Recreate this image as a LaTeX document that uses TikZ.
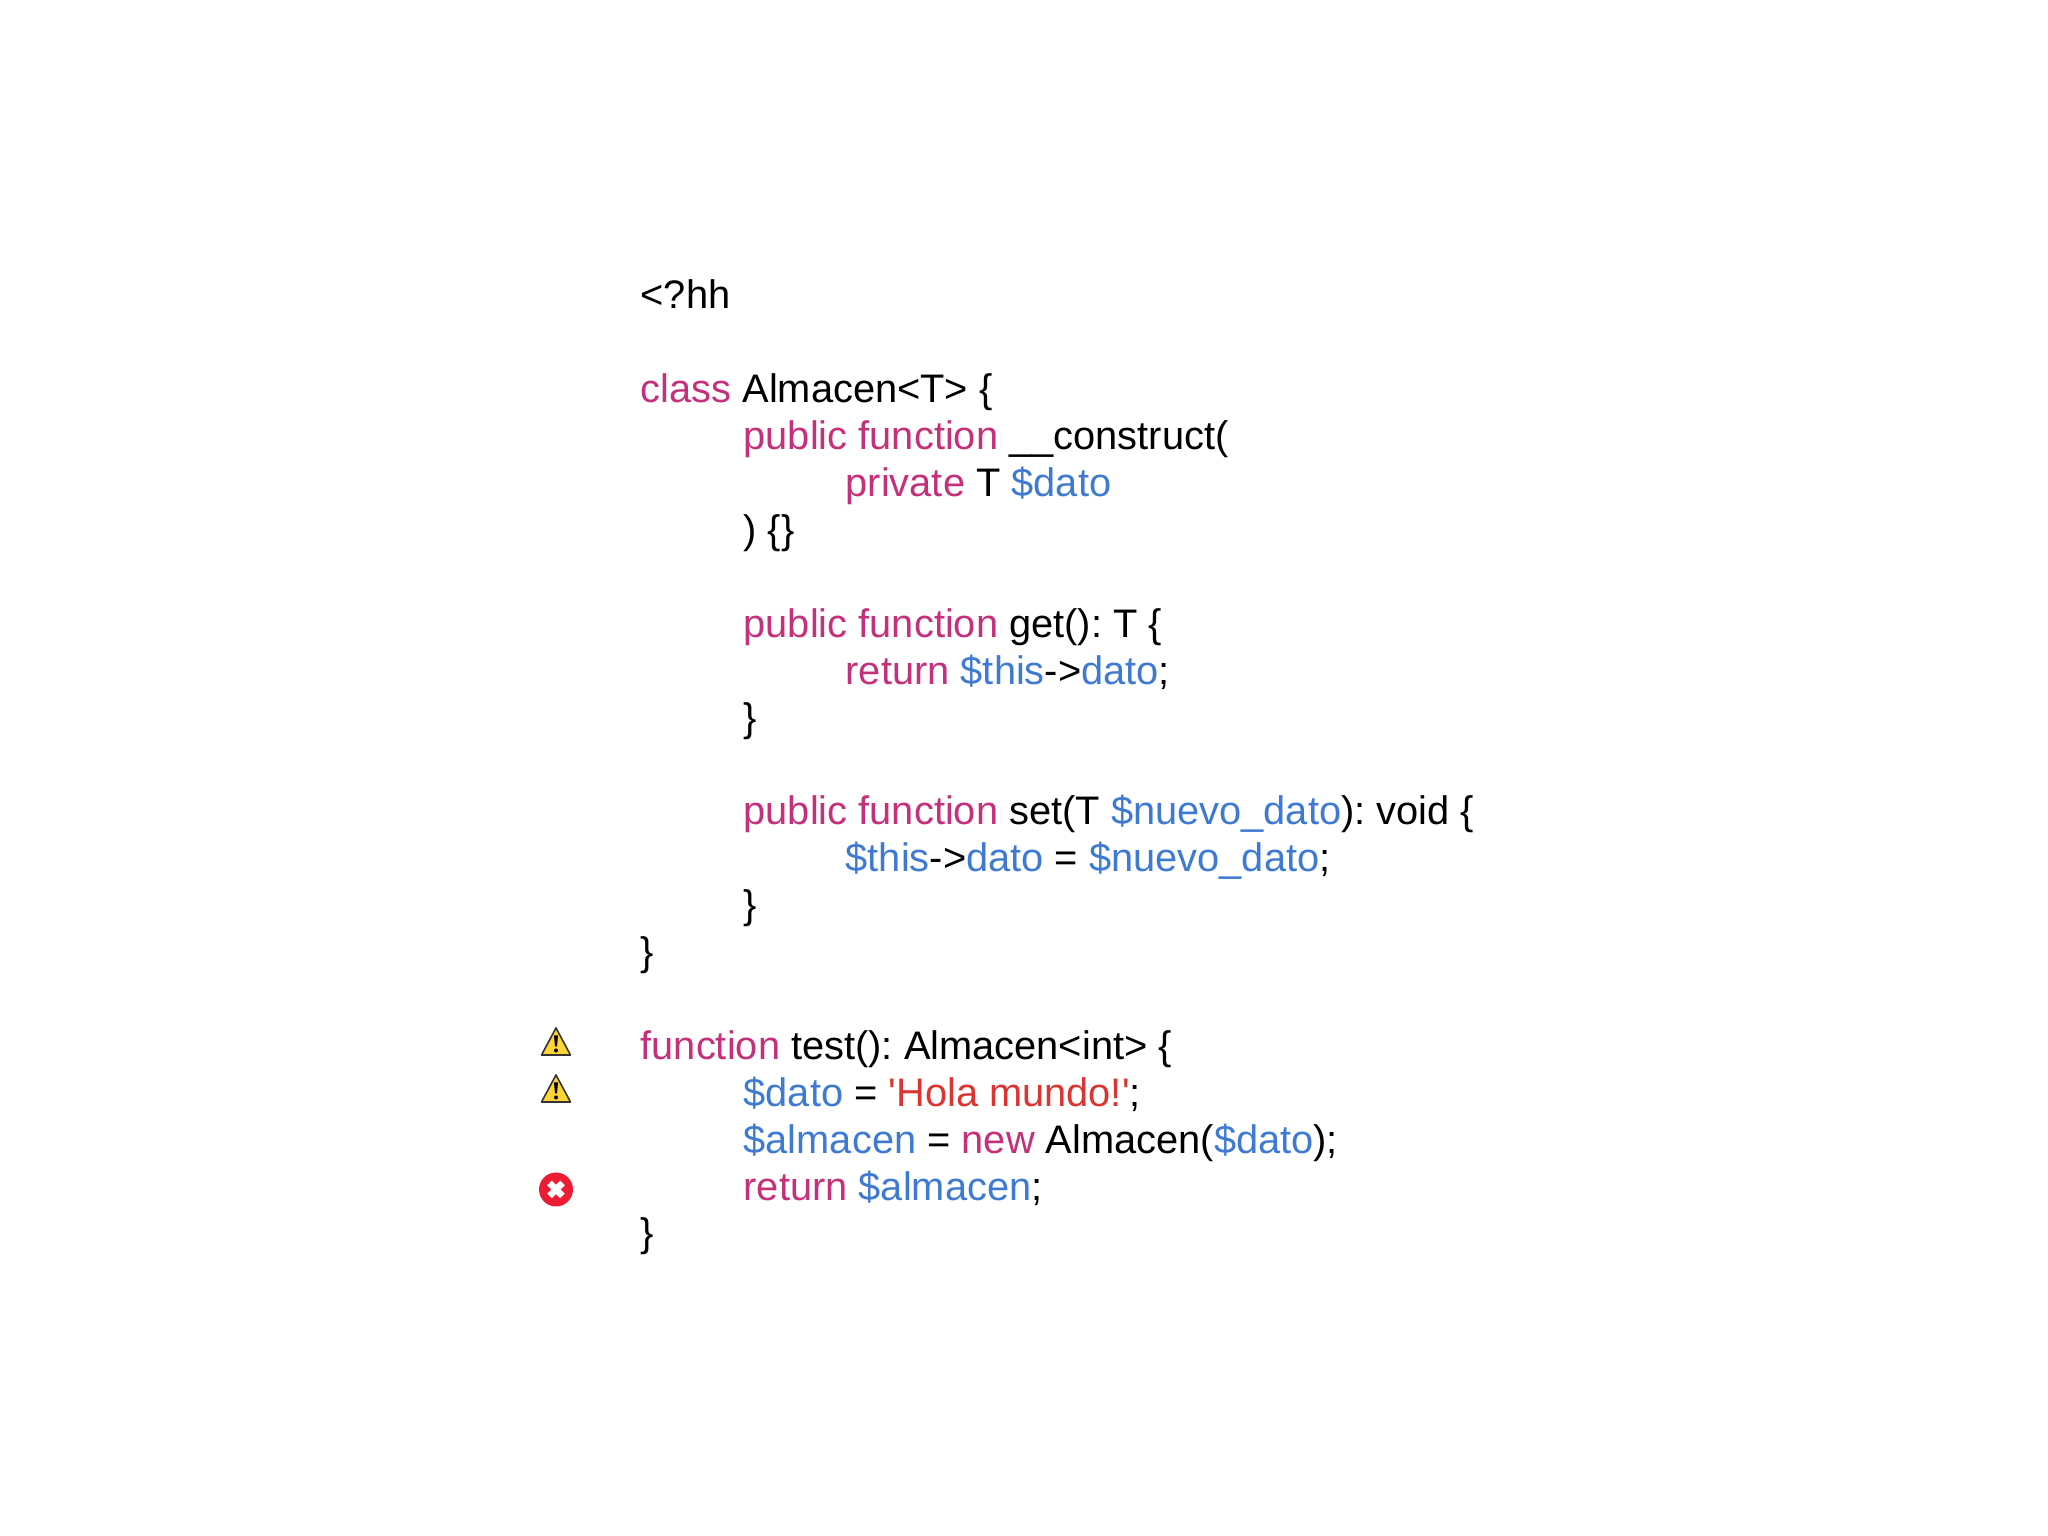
\documentclass[tikz,border=0pt]{standalone}
\usepackage{fontspec}
\setmainfont{Liberation Sans}
\frenchspacing
\definecolor{kwcol}{HTML}{C4307A}
\definecolor{varcol}{HTML}{3F7AD2}
\definecolor{strcol}{HTML}{DC3430}
\definecolor{warncol}{HTML}{FFD436}
\definecolor{errcol}{HTML}{EC1C32}
\newcommand{\kw}[1]{\textcolor{kwcol}{#1}}
\newcommand{\vr}[1]{\textcolor{varcol}{#1}}
\newcommand{\st}[1]{\textcolor{strcol}{#1}}

\begin{document}
\begin{tikzpicture}[code line/.style={anchor=base west,inner sep=0pt,font=\fontsize{11.33pt}{13pt}\selectfont},
  warn sign/.style={draw=black!80,fill=warncol,line width=0.45pt,line join=round},
  err sign/.style={circle,fill=errcol,inner sep=0pt,minimum size=0.34cm}]
  \useasboundingbox (0,0) rectangle (20.48,15.36);

  \node[code line] (open) at (6.40,12.270) {<?hh};

  \node[code line] (class) at (6.40,11.332) {\kw{class} Almacen<T> \{};
  \node[code line] (ctor) at (7.43,10.863) {\kw{public function} \_\_construct(};
  \node[code line] (param) at (8.45,10.394) {\kw{private} T \vr{\$dato}};
  \node[code line] (ctorend) at (7.43,9.925) {) \{\}};

  \node[code line] (get) at (7.43,8.987) {\kw{public function} get(): T \{};
  \node[code line] (getret) at (8.45,8.518) {\kw{return} \vr{\$this}->\vr{dato};};
  \node[code line] (getend) at (7.43,8.049) {\}};

  \node[code line] (set) at (7.43,7.111) {\kw{public function} set(T \vr{\$nuevo\_dato}): void \{};
  \node[code line] (setbody) at (8.45,6.642) {\vr{\$this}->\vr{dato} = \vr{\$nuevo\_dato};};
  \node[code line] (setend) at (7.43,6.173) {\}};
  \node[code line] (classend) at (6.40,5.704) {\}};

  \node[code line] (test) at (6.40,4.766) {\kw{function} test(): Almacen<int> \{};
  \node[code line] (dato) at (7.43,4.297) {\vr{\$dato} = \st{\textquotesingle Hola mundo!\textquotesingle};};
  \node[code line] (alm) at (7.43,3.828) {\vr{\$almacen} = \kw{new} Almacen(\vr{\$dato});};
  \node[code line] (ret) at (7.43,3.359) {\kw{return} \vr{\$almacen};};
  \node[code line] (testend) at (6.40,2.890) {\}};

  % warning triangles
  \foreach \ypos in {4.81,4.34} {
    \draw[warn sign] (5.415,\ypos) -- (5.705,\ypos) -- (5.56,\ypos+0.27) -- cycle;
    \fill[black] (5.56,\ypos+0.045) circle (0.02);
    \fill[black] (5.54,\ypos+0.195) -- (5.58,\ypos+0.195) -- (5.57,\ypos+0.085) -- (5.55,\ypos+0.085) -- cycle;
  }

  % error mark
  \node[err sign] (err) at (5.56,3.465) {};
  \draw[white,line width=1.9pt] ([shift={(-0.065,-0.065)}]err.center) -- ([shift={(0.065,0.065)}]err.center);
  \draw[white,line width=1.9pt] ([shift={(-0.065,0.065)}]err.center) -- ([shift={(0.065,-0.065)}]err.center);

\end{tikzpicture}
\end{document}
